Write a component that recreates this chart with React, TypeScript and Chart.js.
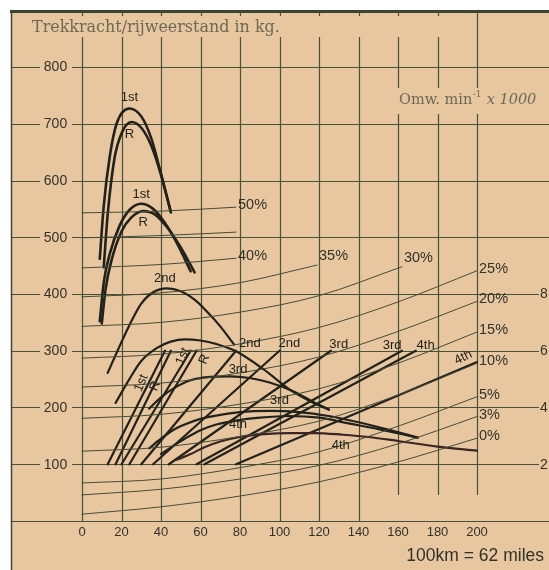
import React, { useEffect, useRef } from "react";
import { Chart, registerables } from "chart.js";

Chart.register(...registerables);

const W = 549;
const H = 570;

// ---- axes ----
const speedTicks = [0, 20, 40, 60, 80, 100, 120, 140, 160, 180, 200];
const forceTicks = [100, 200, 300, 400, 500, 600, 700, 800];
const rpmTickLabels = ["2", "4", "6", "8"];
const rpmTickForces = [100, 200, 300, 400];

// ---- grade resistance curves (kg vs km/h) ----
const gradeNames = ["0%", "3%", "5%", "10%", "15%", "20%", "25%", "30%", "35%", "40%", "", "50%"];
const speedsTo200 = [0, 40, 80, 120, 160, 200];
const speedsTo162 = [0, 40, 80, 120, 162];
const speedsTo119 = [0, 40, 80, 119];
const speedsTo78 = [0, 40, 78];
const grade0 = [12, 25, 44, 69, 104, 146];
const grade3 = [46, 56, 74, 98, 136, 184];
const grade5 = [67, 74, 94, 122, 167, 219];
const grade10 = [123, 130, 149, 176, 222, 278];
const grade15 = [181, 188, 206, 233, 278, 333];
const grade20 = [236, 243, 261, 289, 334, 387];
const grade25 = [287, 294, 312, 341, 386, 441];
const grade30 = [343, 350, 368, 397, 448];
const grade35 = [395, 402, 420, 451];
const grade40 = [446, 452, 463];
const grade45 = [499, 503, 509];
const grade50 = [543, 546, 553];

// ---- tractive force curves ----
const first1Speed = [9, 11, 14, 17.5, 24, 30, 35, 40, 45];
const first1Force = [462, 555, 641, 700, 727, 713, 675, 612, 544];
const rev1Speed = [11, 13, 16.5, 20, 25, 30, 35, 40, 45];
const rev1Force = [447, 540, 640, 683, 703, 693, 662, 610, 544];
const first2Speed = [9, 11, 14, 19, 24, 30, 36, 42, 48, 55];
const first2Force = [352, 420, 470, 520, 548, 559, 550, 525, 490, 440];
const rev2Speed = [10, 12, 15, 20, 25, 31, 37, 43, 50, 57];
const rev2Force = [348, 410, 460, 510, 535, 546, 540, 518, 482, 438];
const second1Speed = [13, 18, 24, 30, 36, 43, 50, 57, 63, 70, 77];
const second1Force = [261, 300, 345, 383, 403, 410, 405, 390, 370, 343, 311];
const second2Speed = [17, 24, 30, 38, 45, 52, 60, 68, 78, 92, 105, 115, 125];
const second2Force = [208, 250, 282, 305, 316, 320, 318, 312, 299, 267, 232, 212, 196];
const third1Speed = [34, 40, 47, 55, 65, 75, 85, 95, 108, 118, 125];
const third1Force = [198, 218, 235, 248, 254, 255, 252, 244, 227, 208, 197];
const third2Speed = [34, 40, 46, 52, 60, 70, 80, 95, 110, 125, 140, 155, 170];
const third2Force = [128, 145, 160, 170, 180, 187, 192, 194, 192, 185, 174, 161, 147];
const fourth1Speed = [40, 46, 52, 60, 68, 78, 90, 105, 120, 135, 150, 170];
const fourth1Force = [118, 132, 145, 160, 170, 177, 182, 185, 182, 172, 162, 147];
const fourth2Speed = [48, 55, 62, 70, 80, 92, 105, 118, 132, 145, 160, 180, 200];
const fourth2Force = [108, 118, 130, 140, 148, 153, 155, 155, 152, 148, 141, 131, 124];

// ---- engine speed lines per gear (start at 2000 rpm, end at max) ----
const rpmLineStartSpeed = [13, 17, 20, 24, 30, 36, 44, 58, 62, 78];
const rpmLineStartForce = [100, 100, 100, 100, 100, 100, 100, 100, 100, 100];
const rpmLineEndSpeed = [42, 45, 55, 58, 78, 100, 126, 162, 169, 200];
const rpmLineEndForce = [300, 300, 300, 300, 300, 300, 300, 300, 300, 280];

// ---- curve labels ----
const curveLabelTexts = ["1st", "R", "1st", "R", "2nd", "2nd", "2nd", "3rd", "3rd", "4th", "4th", "3rd", "3rd", "4th", "4th", "1st", "R", "1st", "R"];
const curveLabelSpeeds = [24, 24, 30, 31, 42, 85, 105, 130, 157, 174, 193, 79, 100, 79, 131, 30, 37, 51, 62];
const curveLabelForces = [747, 682, 576, 526, 427, 313, 313, 312, 309, 309, 288, 267, 212, 170, 133, 243, 238, 290, 285];
const curveLabelAngles = [0, 0, 0, 0, 0, 0, 0, 0, 0, 0, -27, 0, 0, 0, 0, -68, -68, -68, -68];

// ---- layout / style ----
const X0_PX = 82;
const PX_PER_KMH = 1.975;
const Y0_PX = 521;
const PX_PER_KG = 0.5675;
const X_MIN = -X0_PX / PX_PER_KMH;
const X_MAX = X_MIN + W / PX_PER_KMH;
const Y_MAX = Y0_PX / PX_PER_KG;
const Y_MIN = Y_MAX - H / PX_PER_KG;

const TAN = "#e8c7a0";
const GRID = "#46523a";
const THIN = "#454b38";
const INK = "#22221c";
const TEXT = "#30332a";
const SANS = '"Liberation Sans", Arial, sans-serif';
const SERIF = '"DejaVu Serif", "Liberation Serif", serif';

function series(xs: number[], ys: number[], color: string, width: number, curved = true) {
  return {
    data: xs.map((x, i) => ({ x, y: ys[i] })),
    borderColor: color,
    borderWidth: width,
    pointRadius: 0,
    fill: false,
    tension: curved ? 0.4 : 0,
    cubicInterpolationMode: curved ? ("monotone" as const) : ("default" as const),
    borderCapStyle: "round" as const,
  };
}

function fitFont(ctx: CanvasRenderingContext2D, text: string, family: string, width: number, style = "") {
  ctx.font = `${style}20px ${family}`;
  const w = ctx.measureText(text).width;
  return (20 * width) / w;
}

const bgPlugin = {
  id: "bg",
  beforeDraw(chart: any) {
    const { ctx } = chart;
    ctx.save();
    ctx.fillStyle = "#ffffff";
    ctx.fillRect(0, 0, W, H);
    ctx.fillStyle = TAN;
    ctx.fillRect(11, 11, W - 11, H - 11);
    ctx.strokeStyle = "#3a4730";
    ctx.lineWidth = 3;
    ctx.beginPath();
    ctx.moveTo(10, 11.5);
    ctx.lineTo(W, 11.5);
    ctx.stroke();
    ctx.lineWidth = 1.5;
    ctx.beginPath();
    ctx.moveTo(11.5, 10);
    ctx.lineTo(11.5, H);
    ctx.stroke();
    ctx.restore();
  },
};

const gridPlugin = {
  id: "grid",
  beforeDatasetsDraw(chart: any) {
    const { ctx } = chart;
    const xs = chart.scales.x;
    const ys = chart.scales.y;
    ctx.save();
    ctx.strokeStyle = GRID;
    ctx.lineWidth = 1.2;
    for (const v of [0, ...forceTicks]) {
      const py = Math.round(ys.getPixelForValue(v)) + 0.5;
      ctx.beginPath();
      ctx.moveTo(12, py);
      ctx.lineTo(W, py);
      ctx.stroke();
    }
    for (const s of speedTicks) {
      const px = Math.round(xs.getPixelForValue(s)) + 0.5;
      const bottom = ys.getPixelForValue(s >= 160 ? 46 : 0);
      ctx.beginPath();
      ctx.moveTo(px, 12);
      ctx.lineTo(px, bottom);
      ctx.stroke();
    }
    ctx.fillStyle = TAN;
    ctx.fillRect(26, 16, 420, 21);
    ctx.fillRect(386, 88, W - 386, 26);

    // title
    const title = "Trekkracht/rijweerstand in kg.";
    const ts = fitFont(ctx, title, SERIF, 248);
    ctx.fillStyle = "#6b6956";
    ctx.textBaseline = "middle";
    ctx.textAlign = "left";
    ctx.font = `${ts}px ${SERIF}`;
    ctx.fillText(title, 32, 28);

    // rpm axis title
    const os = 14.5;
    let ox = 399;
    const oy = 100;
    ctx.font = `${os}px ${SERIF}`;
    ctx.fillText("Omw. min", ox, oy);
    ox += ctx.measureText("Omw. min").width;
    ctx.font = `9px ${SERIF}`;
    ctx.fillText("-1", ox + 0.5, oy - 5);
    ox += ctx.measureText("-1").width + 1;
    ctx.font = `italic ${os}px ${SERIF}`;
    ctx.fillText(" x 1000", ox, oy);

    // y tick labels
    ctx.font = `14px ${SANS}`;
    ctx.textAlign = "center";
    for (const v of forceTicks) {
      const py = ys.getPixelForValue(v);
      ctx.fillStyle = TAN;
      ctx.fillRect(40, py - 7, 32, 14);
      ctx.fillStyle = TEXT;
      ctx.fillText(String(v), 55.5, py + 0.5);
    }
    ctx.textAlign = "left";
    rpmTickLabels.forEach((t, i) => {
      const py = ys.getPixelForValue(rpmTickForces[i]);
      ctx.fillStyle = TAN;
      ctx.fillRect(539, py - 7, 10, 14);
      ctx.fillStyle = TEXT;
      ctx.fillText(t, 540, py + 0.5);
    });
    ctx.font = `13px ${SANS}`;
    ctx.textAlign = "center";
    ctx.fillStyle = TEXT;
    for (const s of speedTicks) {
      ctx.fillText(String(s), xs.getPixelForValue(s), 532);
    }
    ctx.font = `17.5px ${SANS}`;
    ctx.textAlign = "right";
    ctx.fillText("100km = 62 miles", 544, 556);
    ctx.restore();
  },
};

const labelPlugin = {
  id: "labels",
  afterDatasetsDraw(chart: any) {
    const { ctx } = chart;
    const xs = chart.scales.x;
    const ys = chart.scales.y;
    ctx.save();
    const gradeEnds: [number, number][] = [
      [200, grade0[5]], [200, grade3[5]], [200, grade5[5]], [200, grade10[5]],
      [200, grade15[5]], [200, grade20[5]], [200, grade25[5]], [162, grade30[4]],
      [119, grade35[3]], [78, grade40[2]], [78, grade45[2]], [78, grade50[2]],
    ];
    ctx.font = `14.5px ${SANS}`;
    ctx.fillStyle = TEXT;
    ctx.textAlign = "left";
    ctx.textBaseline = "middle";
    gradeNames.forEach((n, i) => {
      if (!n) return;
      const [sx, sy] = gradeEnds[i];
      const lift = i === 7 || i === 8 ? 9 : 2;
      ctx.fillText(n, xs.getPixelForValue(sx) + 2, ys.getPixelForValue(sy) - lift);
    });
    ctx.fillStyle = INK;
    ctx.font = `13px ${SANS}`;
    ctx.textAlign = "center";
    curveLabelTexts.forEach((t, i) => {
      const px = xs.getPixelForValue(curveLabelSpeeds[i]);
      const py = ys.getPixelForValue(curveLabelForces[i]);
      ctx.save();
      ctx.translate(px, py);
      ctx.rotate((curveLabelAngles[i] * Math.PI) / 180);
      ctx.fillText(t, 0, 0);
      ctx.restore();
    });
    ctx.restore();
  },
};

export default function App() {
  const ref = useRef<HTMLCanvasElement>(null);
  useEffect(() => {
    const canvas = ref.current;
    if (!canvas) return;
    const datasets: any[] = [
      series(speedsTo200, grade0, THIN, 1),
      series(speedsTo200, grade3, THIN, 1),
      series(speedsTo200, grade5, THIN, 1),
      series(speedsTo200, grade10, THIN, 1),
      series(speedsTo200, grade15, THIN, 1),
      series(speedsTo200, grade20, THIN, 1),
      series(speedsTo200, grade25, THIN, 1),
      series(speedsTo162, grade30, THIN, 1),
      series(speedsTo119, grade35, THIN, 1),
      series(speedsTo78, grade40, THIN, 1),
      series(speedsTo78, grade45, THIN, 1),
      series(speedsTo78, grade50, THIN, 1),
      series(first1Speed, first1Force, INK, 2.6),
      series(rev1Speed, rev1Force, INK, 2.6),
      series(first2Speed, first2Force, INK, 2.6),
      series(rev2Speed, rev2Force, INK, 2.6),
      series(second1Speed, second1Force, INK, 2.2),
      series(second2Speed, second2Force, INK, 2.2),
      series(third1Speed, third1Force, INK, 2.2),
      series(third2Speed, third2Force, INK, 2.2),
      series(fourth1Speed, fourth1Force, INK, 2.2),
      series(fourth2Speed, fourth2Force, "#3a2526", 2.2),
    ];
    rpmLineStartSpeed.forEach((s, i) => {
      datasets.push(
        series([s, rpmLineEndSpeed[i]], [rpmLineStartForce[i], rpmLineEndForce[i]], INK, 2.2, false)
      );
    });
    const chart = new Chart(canvas, {
      type: "line",
      data: { datasets },
      options: {
        animation: false,
        responsive: false,
        devicePixelRatio: 1,
        layout: { padding: 0 },
        plugins: { legend: { display: false }, tooltip: { enabled: false } },
        scales: {
          x: { type: "linear", min: X_MIN, max: X_MAX, display: false },
          y: { type: "linear", min: Y_MIN, max: Y_MAX, display: false },
        },
      },
      plugins: [bgPlugin, gridPlugin, labelPlugin],
    } as any);
    return () => chart.destroy();
  }, []);
  return (
    <div style={{ position: "absolute", left: 0, top: 0, width: W, height: H }}>
      <canvas ref={ref} width={W} height={H} style={{ display: "block", width: W, height: H }} />
    </div>
  );
}
